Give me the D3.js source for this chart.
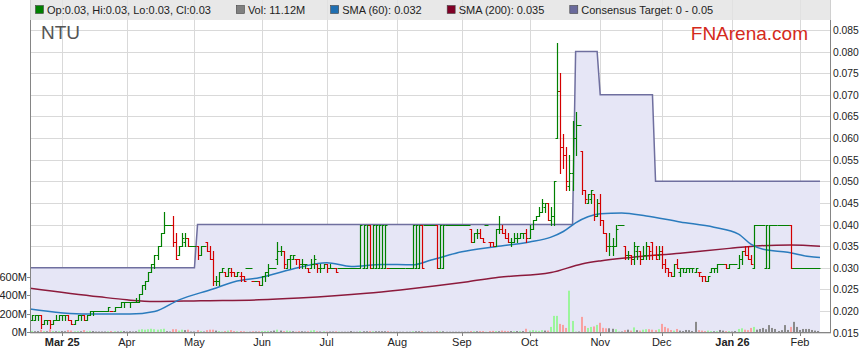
<!DOCTYPE html>
<meta charset="utf-8">
<script src="https://d3js.org/d3.v7.min.js"></script>
<style>
  body { margin: 0; background: #fff; }
  svg { display: block; font-family: Arial, "Liberation Sans", sans-serif; }
</style>
<body>
<svg width="859" height="363"></svg>
<script>
// one bar per weekday from 17 Feb 2025: open, high, low, close in 0.001 $
var bars = [
  [18,19,18,19],[18,19,18,19],[19,19,18,19],[19,19,16,17],[17,18,17,18],[18,18,17,18],[18,18,16,17],[17,18,17,18],[18,19,18,18],[18,19,18,19],
  [19,19,18,19],[19,19,18,19],[19,19,18,18],[18,18,17,17],[17,18,17,18],[18,19,18,19],[19,19,18,19],[19,19,18,18],[18,19,18,19],[19,20,19,20],
  [20,20,19,20],[20,20,20,20],[20,20,20,20],[20,20,20,20],[20,20,20,20],[20,21,20,21],[20,20,20,20],[20,21,20,21],[21,21,21,21],[21,22,21,22],
  [22,22,21,22],[22,22,22,22],[22,22,21,22],[22,22,22,22],[22,23,22,22],[22,24,22,24],[24,26,24,26],[26,27,25,27],[27,29,27,29],[29,31,29,31],
  [31,33,30,33],[33,35,32,35],[35,38,35,38],[38,43,38,40],[40,40,40,40],[40,40,40,40],[40,42,35,36],[36,38,32,32],[33,35,33,35],[35,38,35,37],
  [36,38,35,37],[37,37,35,35],[35,35,35,35],[35,35,35,35],[35,35,32,33],[33,35,33,35],[35,35,35,35],[36,36,34,34],[34,35,32,32],[32,34,26,27],
  [27,28,26,27],[27,29,26,29],[29,30,29,30],[29,29,28,28],[28,30,28,30],[29,30,28,29],[29,29,28,28],[28,29,28,29],[28,29,27,28],[28,28,27,27],
  [30,30,30,30],[30,30,30,30],[27,27,27,27],[27,27,27,27],[27,27,26,26],[26,28,26,28],[28,29,27,29],[29,31,28,30],[30,30,30,30],[30,30,30,30],
  [32,36,31,34],[34,35,33,34],[34,34,30,31],[30,32,30,32],[32,33,30,33],[32,33,32,33],[32,32,31,32],[32,32,30,31],[31,32,30,31],[31,31,30,31],
  [30,30,29,29],[30,32,30,31],[31,33,30,32],[31,31,29,30],[30,31,29,30],[30,31,30,31],[31,31,29,30],[30,31,30,30],[30,30,30,30],[30,30,29,29],
  [30,30,30,30],[30,30,30,30],[30,30,30,30],[30,30,30,30],[30,30,30,30],[30,30,30,30],[30,30,30,30],[30,40,30,40],[30,40,30,40],[30,40,30,40],
  [40,40,30,30],[30,40,30,40],[30,40,30,40],[30,40,30,40],[30,40,30,40],[30,40,30,40],[30,30,30,30],[30,30,30,30],[30,30,30,30],[30,30,30,30],
  [30,30,30,30],[30,30,30,30],[30,30,30,30],[30,30,30,30],[30,40,30,40],[30,40,30,40],[30,40,30,40],[40,40,30,30],[40,40,40,40],[40,40,40,40],
  [40,40,40,40],[40,40,40,40],[40,40,30,30],[30,40,30,40],[30,40,30,40],[40,40,40,40],[40,40,40,40],[40,40,40,40],[40,40,40,40],[40,40,40,40],
  [40,40,40,40],[40,40,40,40],[40,40,40,40],[39,39,36,36],[36,38,36,38],[38,39,37,38],[38,39,37,37],[37,37,36,36],[40,40,40,40],[36,36,35,36],
  [36,36,35,35],[35,39,35,39],[39,42,38,39],[39,40,38,38],[38,39,37,37],[37,38,36,36],[36,37,35,36],[36,38,36,37],[37,38,36,37],[37,38,37,38],
  [38,38,37,38],[38,39,36,37],[37,40,37,39],[39,41,39,41],[41,42,41,42],[42,44,42,43],[43,46,43,45],[44,45,43,45],[45,45,41,41],[41,44,40,42],
  [42,50,40,50],[60,82,60,71],[71,75,52,58],[58,61,53,56],[56,58,48,50],[49,56,48,52],[52,64,48,60],[60,66,56,63],[63,63,63,63],[57,57,47,48],
  [48,48,45,46],[45,47,45,47],[46,48,45,48],[47,47,41,42],[42,46,42,45],[45,47,40,41],[41,41,38,38],[38,38,34,35],[35,38,33,35],[35,37,33,35],
  [35,40,35,39],[40,40,40,40],[40,40,40,40],[35,35,32,33],[33,34,32,33],[33,33,31,32],[32,36,31,35],[34,35,32,35],[34,34,31,32],[32,35,32,33],
  [33,36,32,35],[35,35,32,34],[36,36,32,33],[33,35,32,32],[33,35,32,34],[34,35,30,31],[31,32,29,30],[30,30,28,29],[29,29,28,28],[28,31,28,31],
  [31,32,30,30],[29,30,28,30],[30,30,29,30],[29,30,29,30],[30,30,29,30],[30,30,29,30],[29,30,29,30],[29,29,28,29],[28,28,27,28],[28,28,27,27],
  [27,28,27,28],[29,30,29,30],[30,30,29,30],[30,31,29,31],[31,31,31,31],[31,31,31,31],[31,31,30,30],[30,31,30,31],[31,31,31,31],[31,31,31,31],
  [30,33,30,32],[32,34,31,34],[34,35,33,33],[33,35,32,32],[32,33,31,31],[30,40,30,40],[40,40,40,40],[40,40,40,40],[40,40,40,40],[30,40,30,40],
  [30,40,30,40],[40,40,40,40],[40,40,40,40],[40,40,40,40],[40,40,40,40],[40,40,40,40],[40,40,40,40],[40,40,30,30],[30,30,30,30],[30,30,30,30],
  [30,30,30,30],[30,30,30,30],[30,30,30,30],[30,30,30,30],[30,30,30,30],[30,30,30,30],[30,30,30,30]
];

// volume per bar, millions of shares
var volumes = [
  12,8,10,25,10,8,30,10,8,10, 10,8,20,15,8,10,8,20,8,12, 10,5,5,5,5,8,10,8,5,12,
  10,5,8,5,8,25,30,25,30,35, 30,25,30,35,8,5,30,30,15,25, 20,25,5,5,20,10,5,20,25,25,
  15,10,5,10,15,20,10,8,10,8, 3,3,8,5,8,10,10,12,8,15, 25,15,10,15,12,8,5,10,8,5,
  8,15,20,8,5,8,5,5,5,8, 5,3,3,3,10,3,3,10,8,8, 10,8,8,8,8,8,10,3,3,3,
  3,3,3,3,8,8,8,10,3,3, 3,3,10,8,8,3,3,3,3,3, 3,3,3,10,8,8,10,10,3,10,
  12,10,8,15,12,10,10,8,10,10, 10,35,15,20,15,12,20,15,15,55, 175,175,88,77,44,448,120,5,5,164,
  66,44,55,60,77,100,45,40,40,35, 30,5,5,20,25,15,50,20,15,25, 30,30,25,20,30,88,55,40,22,15,
  33,15,10,22,20,10,110,20,15,10, 15,10,8,10,22,15,10,10,5,10, 33,40,25,20,44,55,25,33,44,30,
  75,44,33,10,20,75,22,55,110,55, 22,33,33,33,22,15,11.12
];

// moving averages (bar index, price)
var sma60At = [0, 18, 32, 40, 48, 59, 66, 74, 87, 96, 104, 114, 124, 130, 140, 151, 162, 169, 173, 177, 181, 185, 192, 200, 211, 222, 230, 234, 238, 246, 253, 256];
var sma60 = [0.0205, 0.0193, 0.0193, 0.0199, 0.0226, 0.0251, 0.0268, 0.0277, 0.0301, 0.0312, 0.0303, 0.0308, 0.0307, 0.0318, 0.0337, 0.0349, 0.0360, 0.0371, 0.0384, 0.0404, 0.0418, 0.0425, 0.0427, 0.0420, 0.0406, 0.0394, 0.0378, 0.0355, 0.0343, 0.0336, 0.0326, 0.0324];
var sma200At = [0, 22, 31, 40, 55, 74, 87, 109, 120, 131, 142, 152, 169, 179, 185, 195, 211, 227, 237, 247, 256];
var sma200 = [0.0253, 0.0233, 0.0226, 0.0222, 0.0224, 0.0226, 0.0230, 0.0241, 0.0249, 0.0258, 0.0268, 0.0278, 0.0289, 0.0309, 0.0316, 0.0324, 0.0334, 0.0345, 0.0351, 0.0353, 0.0350];

// consensus target: bar index where each level starts
var targetFrom = [0, 54, 177, 185, 203];
var targetLevel = [0.030, 0.040, 0.080, 0.070, 0.050];

var monthKeys = ["2025-2", "2025-3", "2025-4", "2025-5", "2025-6", "2025-7", "2025-8", "2025-9", "2025-10", "2025-11", "2026-0", "2026-1"];
var monthLabels = ["Mar 25", "Apr", "May", "Jun", "Jul", "Aug", "Sep", "Oct", "Nov", "Dec", "Jan 26", "Feb"];
var priceTicks = [0.015, 0.020, 0.025, 0.030, 0.035, 0.040, 0.045, 0.050, 0.055, 0.060, 0.065, 0.070, 0.075, 0.080, 0.085];
var volumeTicks = [0, 200, 400, 600];

var legendLabels = ["Op:0.03, Hi:0.03, Lo:0.03, Cl:0.03", "Vol: 11.12M", "SMA (60): 0.032", "SMA (200): 0.035", "Consensus Target: 0 - 0.05"];
var legendColors = ["#008000", "#808080", "#1f6fb2", "#800026", "#6a6a9c"];

var svg = d3.select("svg");
var N = bars.length;

// weekday dates
var dates = [];
var d = new Date(2025, 1, 17);
while (dates.length < N) {
  if (d.getDay() !== 0 && d.getDay() !== 6) dates.push(new Date(d));
  d.setDate(d.getDate() + 1);
}

var x = d3.scaleBand().domain(d3.range(N)).range([30, 820]);
var xc = function (i) { return x(i) + x.bandwidth() / 2; };
var y = d3.scaleLinear().domain([0.015, 0.085]).range([332.7, 30]);
var yv = d3.scaleLinear().domain([0, 600]).range([332, 276.7]);
var px = function (v) { return v / 1000; };

// first bar of each month
var monthIdx = monthKeys.map(function (k) {
  return dates.findIndex(function (dt) { return dt.getFullYear() + "-" + dt.getMonth() === k; });
});

// grid
var grid = svg.append("g").attr("stroke", "#d9d9d9").attr("stroke-width", 1);
priceTicks.forEach(function (t) {
  var yy = Math.round(y(t)) + 0.5;
  grid.append("line").attr("x1", 30).attr("x2", 831).attr("y1", yy).attr("y2", yy);
});
monthIdx.forEach(function (i) {
  var xx = Math.round(xc(i)) + 0.5;
  grid.append("line").attr("x1", xx).attr("x2", xx).attr("y1", 0).attr("y2", 332);
});

// target band
var target = d3.range(N).map(function (i) {
  var lvl = targetLevel[0];
  targetFrom.forEach(function (f, k) { if (i >= f) lvl = targetLevel[k]; });
  return lvl;
});
var tx = function (dd, i) { return i === 0 ? 30 : i === N - 1 ? 820 : xc(i); };
svg.append("path")
  .datum(target)
  .attr("fill", "#e6e6f6")
  .attr("d", d3.area().x(tx).y0(332).y1(function (v) { return y(v); }));
svg.append("path")
  .datum(target)
  .attr("fill", "none")
  .attr("stroke", "#6f6f9f")
  .attr("stroke-width", 1.5)
  .attr("d", d3.line().x(tx).y(function (v) { return y(v); }));

// volume
function change(i) {
  var prev = i === 0 ? bars[0][0] : bars[i - 1][3];
  return bars[i][3] - prev;
}
svg.append("g")
  .selectAll("rect")
  .data(volumes)
  .join("rect")
  .attr("x", function (v, i) { return Math.round(xc(i)) - 1; })
  .attr("width", 2)
  .attr("y", function (v) { return yv(v); })
  .attr("height", function (v) { return 332 - yv(v); })
  .attr("fill", function (v, i) {
    var c = change(i);
    return c > 0 ? "#9cf59c" : c < 0 ? "#f9a0a0" : "#8a8a8a";
  });

// moving averages
var smaLine = d3.line().curve(d3.curveMonotoneX);
svg.append("path")
  .attr("fill", "none").attr("stroke", "#8c1a3c").attr("stroke-width", 1.5)
  .attr("d", smaLine(sma200At.map(function (i, k) { return [tx(0, i), y(sma200[k])]; })));
svg.append("path")
  .attr("fill", "none").attr("stroke", "#2a7bbd").attr("stroke-width", 1.5)
  .attr("d", smaLine(sma60At.map(function (i, k) { return [tx(0, i), y(sma60[k])]; })));

// OHLC bars
svg.append("g")
  .selectAll("path")
  .data(bars)
  .join("path")
  .attr("fill", "none")
  .attr("stroke-width", 1.2)
  .attr("stroke", function (b, i) { return change(i) < 0 ? "#d40000" : "#008000"; })
  .attr("d", function (b, i) {
    var cx = Math.round(xc(i)) + 0.5;
    var o = Math.round(y(px(b[0]))) + 0.5, h = Math.round(y(px(b[1]))),
        l = Math.round(y(px(b[2]))) + 1, c = Math.round(y(px(b[3]))) + 0.5;
    return "M" + cx + "," + h + "V" + l + "M" + (cx - 2) + "," + o + "H" + cx + "M" + cx + "," + c + "H" + (cx + 2);
  });

// axes
var axes = svg.append("g").attr("stroke", "#858585").attr("stroke-width", 1);
axes.append("line").attr("x1", 30.5).attr("x2", 30.5).attr("y1", 0).attr("y2", 332.5);
axes.append("line").attr("x1", 830.5).attr("x2", 830.5).attr("y1", 0).attr("y2", 332.5);
axes.append("line").attr("x1", 30).attr("x2", 831).attr("y1", 332.5).attr("y2", 332.5);
monthIdx.forEach(function (i) {
  var xx = Math.round(xc(i)) + 0.5;
  axes.append("line").attr("x1", xx).attr("x2", xx).attr("y1", 332).attr("y2", 336);
});
volumeTicks.forEach(function (t) {
  var yy = Math.round(yv(t)) + 0.5;
  axes.append("line").attr("x1", 27).attr("x2", 30).attr("y1", yy).attr("y2", yy);
});

svg.append("g")
  .selectAll("text")
  .data(priceTicks)
  .join("text")
  .attr("x", 833)
  .attr("y", function (t) { return y(t) + 4; })
  .attr("font-size", 10.3)
  .attr("fill", "#222")
  .text(function (t) { return d3.format(".3f")(t); });

svg.append("g")
  .selectAll("text")
  .data(volumeTicks)
  .join("text")
  .attr("x", 27)
  .attr("y", function (t) { return yv(t) + 4; })
  .attr("text-anchor", "end")
  .attr("font-size", 11)
  .attr("fill", "#222")
  .text(function (t) { return t + "M"; });

svg.append("g")
  .selectAll("text")
  .data(monthIdx)
  .join("text")
  .attr("x", function (i) { return xc(i); })
  .attr("y", 346)
  .attr("text-anchor", "middle")
  .attr("font-size", 11)
  .attr("font-weight", function (i, k) { return monthLabels[k].indexOf(" ") > 0 ? "bold" : "normal"; })
  .attr("fill", "#222")
  .text(function (i, k) { return monthLabels[k]; });

// titles
svg.append("text").attr("x", 41).attr("y", 39).attr("font-size", 19).attr("fill", "#555").text("NTU");
svg.append("text").attr("x", 808).attr("y", 40).attr("text-anchor", "end").attr("font-size", 19).attr("fill", "#d42a1c").text("FNArena.com");

// legend
svg.append("rect").attr("x", 30).attr("y", 0).attr("width", 801).attr("height", 20).attr("fill", "#e2e2e2").attr("opacity", 0.8);
var lx = 35;
legendLabels.forEach(function (lab, k) {
  svg.append("rect").attr("x", lx + 0.5).attr("y", 5.5).attr("width", 8).attr("height", 8)
    .attr("fill", legendColors[k]).attr("stroke", "#444").attr("stroke-width", 0.6);
  var t = svg.append("text").attr("x", lx + 12).attr("y", 14).attr("font-size", 11).attr("fill", "#222").text(lab);
  lx += 12 + t.node().getComputedTextLength() + 25;
});
</script>
</body>
